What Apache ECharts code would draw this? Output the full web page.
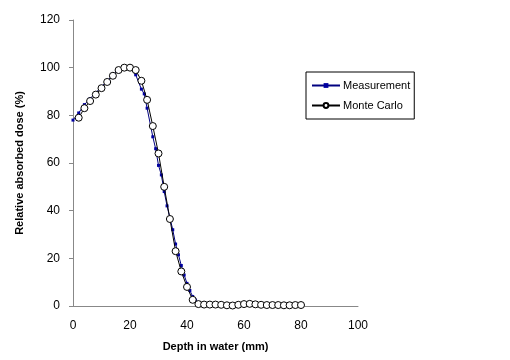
<!DOCTYPE html>
<html><head><meta charset="utf-8">
<script src="https://cdn.jsdelivr.net/npm/echarts@6/dist/echarts.min.js"></script>
<style>html,body{margin:0;padding:0;background:#fff}#c{width:510px;height:360px}</style>
</head><body><div id="c"></div>
<script>
const measX = [0,2,4,6,8,10,12,14,16,18,20,22,24,25,26,28,29,30,31,32,33,34,35,36,37,38,39,40,41,42,43,44];
const measY = [78,81,84.5,87,89.5,92,94.5,97,99,100,99.5,97,91,89,83,71,66,59,55,48,42,37,32,26,21.5,17,13,9.5,6.5,4,2.5,1.5];
const mcX = [2,4,6,8,10,12,14,16,18,20,22,24,26,28,30,32,34,36,38,40,42,44,46,48,50,52,54,56,58,60,62,64,66,68,70,72,74,76,78,80];
const mcY = [79,83,86,88.7,91.4,94,96.6,99,100,100,99,94.5,86.5,75.5,64,50,36.5,23,14.5,8,2.6,0.8,0.6,0.6,0.6,0.5,0.3,0.2,0.5,0.8,0.9,0.7,0.5,0.4,0.4,0.4,0.3,0.3,0.4,0.4];
const xTicks = [0,20,40,60,80,100];
const yTicks = [0,20,40,60,80,100,120];

const chart = echarts.init(document.getElementById('c'));
const font = 'Liberation Sans, Arial, sans-serif';
chart.setOption({
  animation: false,
  grid: {left: 73, right: 152, top: 20, bottom: 54},
  legend: {
    orient: 'vertical', left: 306, top: 72,
    borderColor: '#000', borderWidth: 1, padding: [8, 4, 8, 5],
    itemWidth: 28, itemHeight: 6, itemGap: 9,
    textStyle: {fontFamily: font, fontSize: 11, color: '#000', padding: [0,0,0,-2]},
    data: ['Measurement', 'Monte Carlo']
  },
  xAxis: {
    type: 'value', min: 0, max: 100, interval: 20,
    name: 'Depth in water (mm)', nameLocation: 'middle', nameGap: 35,
    nameTextStyle: {fontFamily: font, fontSize: 11, fontWeight: 'bold', color: '#000'},
    axisLine: {lineStyle: {color: '#888', width: 1}},
    axisTick: {show: false},
    axisLabel: {fontFamily: font, fontSize: 12, color: '#000', margin: 14,
      formatter: v => xTicks.includes(v) ? String(v) : ''},
    splitLine: {show: false}
  },
  yAxis: {
    type: 'value', min: 0, max: 120, interval: 20,
    name: 'Relative absorbed dose (%)', nameLocation: 'middle', nameGap: 48,
    nameTextStyle: {fontFamily: font, fontSize: 11, fontWeight: 'bold', color: '#000'},
    axisLine: {show: true, lineStyle: {color: '#888', width: 1}},
    axisTick: {show: true, length: 4, lineStyle: {color: '#888'}},
    axisLabel: {fontFamily: font, fontSize: 12, color: '#000', margin: 13,
      formatter: v => yTicks.includes(v) ? String(v) : ''},
    splitLine: {show: false}
  },
  series: [
    {
      name: 'Measurement', type: 'line',
      data: measX.map((x, i) => [x, measY[i]]),
      symbol: 'rect', symbolSize: 3, showAllSymbol: true,
      lineStyle: {color: '#000080', width: 1},
      itemStyle: {color: '#0000a0', borderWidth: 0},
      z: 2
    },
    {
      name: 'Monte Carlo', type: 'line',
      data: mcX.map((x, i) => [x, mcY[i]]),
      symbol: 'circle', symbolSize: 7, showAllSymbol: true,
      lineStyle: {color: '#000', width: 1},
      itemStyle: {color: '#fff', borderColor: '#000', borderWidth: 1},
      z: 3
    }
  ]
});
</script></body></html>
